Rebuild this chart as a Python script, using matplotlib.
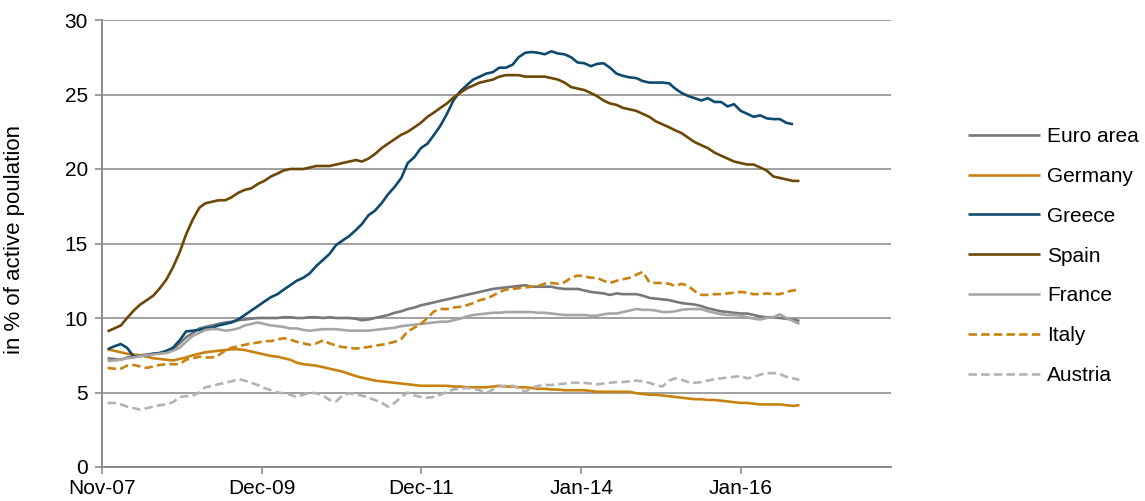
"""Unemployment rates in the euro area and selected countries, 2007-2016."""
import numpy as np
import pandas as pd
import matplotlib
matplotlib.use("Agg")
import matplotlib.pyplot as plt

plt.rcParams["font.family"] = ["Liberation Sans", "DejaVu Sans"]

# monthly values, Dec-07 .. Oct-16 (in % of active population)
months = pd.date_range("2007-12-01", "2016-10-01", freq="MS")

euro_area = [7.3, 7.25, 7.2, 7.35, 7.45, 7.5, 7.55, 7.6, 7.65, 7.7,
             7.9, 8.3, 8.7, 9.0, 9.3, 9.4, 9.5, 9.6, 9.7, 9.75,
             9.85, 9.9, 9.95, 10.0, 10.0, 10.0, 10.0, 10.05, 10.05, 10.0,
             10.0, 10.05, 10.05, 10.0, 10.05, 10.0, 10.0, 10.0, 9.95, 9.85,
             9.9, 10.0, 10.1, 10.2, 10.35, 10.45, 10.6, 10.7, 10.85, 10.95,
             11.05, 11.15, 11.25, 11.35, 11.45, 11.55, 11.65, 11.75, 11.85, 11.95,
             12.0, 12.05, 12.1, 12.15, 12.2, 12.1, 12.1, 12.1, 12.1, 12.0,
             11.95, 11.95, 11.95, 11.85, 11.75, 11.7, 11.65, 11.55, 11.65, 11.6,
             11.6, 11.6, 11.5, 11.35, 11.3, 11.25, 11.2, 11.1, 11.0, 10.95,
             10.9, 10.8, 10.65, 10.55, 10.45, 10.4, 10.35, 10.3, 10.3, 10.2,
             10.1, 10.05, 10.05, 10.0, 9.95, 9.9, 9.8]

germany = [7.9, 7.8, 7.7, 7.6, 7.55, 7.5, 7.4, 7.3, 7.25, 7.2,
           7.15, 7.25, 7.35, 7.5, 7.6, 7.7, 7.75, 7.8, 7.85, 7.9,
           7.9, 7.85, 7.75, 7.65, 7.55, 7.45, 7.4, 7.3, 7.2, 7.0,
           6.9, 6.85, 6.8, 6.7, 6.6, 6.5, 6.4, 6.25, 6.1, 6.0,
           5.9, 5.8, 5.75, 5.7, 5.65, 5.6, 5.55, 5.5, 5.45, 5.45,
           5.45, 5.45, 5.45, 5.4, 5.4, 5.35, 5.35, 5.35, 5.35, 5.4,
           5.45, 5.4, 5.4, 5.35, 5.35, 5.3, 5.25, 5.25, 5.2, 5.2,
           5.15, 5.15, 5.15, 5.15, 5.1, 5.05, 5.05, 5.05, 5.05, 5.05,
           5.05, 4.95, 4.9, 4.85, 4.85, 4.8, 4.75, 4.7, 4.65, 4.6,
           4.55, 4.55, 4.5, 4.5, 4.45, 4.4, 4.35, 4.3, 4.3, 4.25,
           4.2, 4.2, 4.2, 4.2, 4.15, 4.1, 4.15]

greece = [7.9, 8.1, 8.25, 8.0, 7.4, 7.45, 7.5, 7.6, 7.65, 7.8,
          8.0, 8.5, 9.1, 9.15, 9.2, 9.3, 9.35, 9.5, 9.6, 9.7,
          9.9, 10.2, 10.5, 10.8, 11.1, 11.4, 11.6, 11.9, 12.2, 12.5,
          12.7, 13.0, 13.5, 13.9, 14.3, 14.9, 15.2, 15.5, 15.9, 16.3,
          16.9, 17.2, 17.7, 18.3, 18.8, 19.4, 20.4, 20.8, 21.4, 21.7,
          22.3, 22.9, 23.7, 24.6, 25.2, 25.6, 26.0, 26.2, 26.4, 26.5,
          26.8, 26.8, 27.0, 27.5, 27.8, 27.85, 27.8, 27.7, 27.9, 27.75,
          27.7, 27.5, 27.15, 27.1, 26.9, 27.05, 27.1, 26.8, 26.4, 26.25,
          26.15, 26.1, 25.9, 25.8, 25.8, 25.8, 25.75, 25.4, 25.1, 24.9,
          24.75, 24.6, 24.75, 24.5, 24.5, 24.2, 24.35, 23.9, 23.7, 23.5,
          23.6, 23.4, 23.35, 23.35, 23.1, 23.0, None]

spain = [9.1, 9.3, 9.5, 10.0, 10.5, 10.9, 11.2, 11.5, 12.0, 12.6,
         13.4, 14.4, 15.6, 16.6, 17.4, 17.7, 17.8, 17.9, 17.9, 18.1,
         18.4, 18.6, 18.7, 19.0, 19.2, 19.5, 19.7, 19.9, 20.0, 20.0,
         20.0, 20.1, 20.2, 20.2, 20.2, 20.3, 20.4, 20.5, 20.6, 20.5,
         20.7, 21.0, 21.4, 21.7, 22.0, 22.3, 22.5, 22.8, 23.1, 23.5,
         23.8, 24.1, 24.4, 24.8, 25.1, 25.4, 25.6, 25.8, 25.9, 26.0,
         26.2, 26.3, 26.3, 26.3, 26.2, 26.2, 26.2, 26.2, 26.1, 26.0,
         25.8, 25.5, 25.4, 25.3, 25.1, 24.9, 24.6, 24.4, 24.3, 24.1,
         24.0, 23.9, 23.7, 23.5, 23.2, 23.0, 22.8, 22.6, 22.4, 22.1,
         21.8, 21.6, 21.4, 21.1, 20.9, 20.7, 20.5, 20.4, 20.3, 20.3,
         20.1, 19.9, 19.5, 19.4, 19.3, 19.2, 19.2]

france = [7.1, 7.15, 7.2, 7.3, 7.35, 7.45, 7.5, 7.55, 7.6, 7.65,
          7.8, 8.0, 8.4, 8.8, 9.0, 9.2, 9.25, 9.25, 9.15, 9.2,
          9.3, 9.5, 9.6, 9.7, 9.6, 9.5, 9.45, 9.4, 9.3, 9.3,
          9.2, 9.15, 9.2, 9.25, 9.25, 9.25, 9.2, 9.15, 9.15, 9.15,
          9.15, 9.2, 9.25, 9.3, 9.35, 9.45, 9.5, 9.55, 9.6, 9.65,
          9.7, 9.75, 9.75, 9.85, 9.95, 10.1, 10.2, 10.25, 10.3, 10.35,
          10.35, 10.4, 10.4, 10.4, 10.4, 10.4, 10.35, 10.35, 10.3, 10.25,
          10.2, 10.2, 10.2, 10.2, 10.15, 10.15, 10.25, 10.3, 10.3, 10.4,
          10.5, 10.6, 10.55, 10.55, 10.5, 10.4, 10.4, 10.45, 10.55, 10.6,
          10.6, 10.6, 10.45, 10.35, 10.25, 10.2, 10.2, 10.15, 10.05, 9.95,
          9.9, 10.0, 10.05, 10.25, 10.0, 9.8, 9.6]

italy = [6.65, 6.6, 6.6, 6.8, 6.85, 6.75, 6.65, 6.75, 6.85, 6.9,
         6.9, 6.9, 7.2, 7.3, 7.4, 7.35, 7.35, 7.5, 7.8, 8.0,
         8.1, 8.2, 8.3, 8.35, 8.45, 8.45, 8.55, 8.65, 8.55, 8.4,
         8.3, 8.2, 8.3, 8.5, 8.3, 8.15, 8.05, 8.0, 7.95, 8.0,
         8.05, 8.15, 8.2, 8.3, 8.4, 8.6, 9.1, 9.35, 9.6, 10.0,
         10.45, 10.6, 10.6, 10.7, 10.75, 10.85, 11.0, 11.2, 11.3, 11.5,
         11.75, 11.9, 11.95, 12.0, 12.05, 12.1, 12.15, 12.3, 12.35, 12.3,
         12.4, 12.7, 12.85, 12.8, 12.7, 12.7, 12.5, 12.35, 12.5, 12.6,
         12.7, 12.9, 13.1, 12.4, 12.35, 12.35, 12.3, 12.15, 12.3, 12.15,
         11.8, 11.55, 11.55, 11.6, 11.6, 11.65, 11.7, 11.75, 11.7, 11.6,
         11.6, 11.65, 11.6, 11.6, 11.75, 11.85, 11.9]

austria = [4.3, 4.3, 4.2, 4.05, 3.95, 3.85, 3.95, 4.05, 4.15, 4.2,
           4.35, 4.7, 4.75, 4.8, 5.0, 5.35, 5.45, 5.55, 5.65, 5.75,
           5.9, 5.8, 5.65, 5.5, 5.3, 5.15, 5.0, 4.95, 4.85, 4.7,
           4.85, 5.0, 4.95, 4.8, 4.5, 4.4, 4.8, 4.95, 4.85, 4.8,
           4.65, 4.5, 4.3, 4.05, 4.3, 4.7, 5.0, 4.8, 4.7, 4.65,
           4.7, 4.85, 5.05, 5.2, 5.25, 5.3, 5.25, 5.15, 4.95, 5.2,
           5.4, 5.45, 5.45, 5.3, 5.05, 5.3, 5.45, 5.5, 5.5, 5.55,
           5.6, 5.65, 5.65, 5.65, 5.6, 5.55, 5.6, 5.65, 5.7, 5.7,
           5.75, 5.8, 5.75, 5.65, 5.5, 5.4, 5.8, 5.95, 5.85, 5.7,
           5.65, 5.7, 5.8, 5.9, 5.95, 6.0, 6.05, 6.1, 5.95, 6.05,
           6.2, 6.3, 6.3, 6.25, 6.05, 5.95, 5.85]

tick_labels = ["Nov-07", "Dec-09", "Dec-11", "Jan-14", "Jan-16"]
y_ticks = [0, 5, 10, 15, 20, 25, 30]

ORANGE = "#C8820F"
series = [
    ("Euro area", euro_area, "#77787B", "-"),
    ("Germany", germany, ORANGE, "-"),
    ("Greece", greece, "#0E4A6E", "-"),
    ("Spain", spain, "#6C4708", "-"),
    ("France", france, "#A6A6A6", "-"),
    ("Italy", italy, ORANGE, "--"),
    ("Austria", austria, "#B3B3B3", "--"),
]

FS = 15
fig = plt.figure(figsize=(11.45, 5.01), dpi=100)
ax = fig.add_axes([102 / 1145, 1 - 467 / 501, 789 / 1145, 447 / 501])

for name, vals, col, ls in series:
    y = np.array([np.nan if v is None else v for v in vals], dtype=float)
    ln, = ax.plot(months, y, color=col, lw=1.9, ls=ls, label=name,
                  solid_capstyle="butt")
    if ls == "--":
        ln.set_dashes((3.2, 1.6))

# Excel-style date axis: major unit ~745 days
x0 = pd.Timestamp("2007-11-05")
ax.set_xlim(x0, x0 + pd.Timedelta(days=3680))
ax.set_xticks([x0 + pd.Timedelta(days=745 * k) for k in range(len(tick_labels))])
ax.set_xticklabels(tick_labels)
ax.set_ylim(0, 30)
ax.set_yticks(y_ticks)

ax.grid(axis="y", color="#A0A0A0", lw=1.4)
ax.set_axisbelow(True)
for s in ["top", "right"]:
    ax.spines[s].set_visible(False)
for s in ["left", "bottom"]:
    ax.spines[s].set_color("#8C8C8C")
    ax.spines[s].set_linewidth(1.4)
ax.tick_params(axis="y", length=5, width=1.2, color="#8C8C8C", pad=5, labelsize=FS)
ax.tick_params(axis="x", length=5, width=1.2, color="#8C8C8C", pad=4, labelsize=FS)

ax.set_ylabel("in % of active poulation", fontsize=16)
ax.yaxis.set_label_coords(-0.098, 0.51)

fig.legend(loc="center left", bbox_to_anchor=(968 / 1145, 1 - 256 / 501),
           frameon=False, fontsize=FS, handlelength=3.45, handletextpad=0.35,
           labelspacing=1.0, borderpad=0, borderaxespad=0)

fig.savefig("out.png", dpi=100)
